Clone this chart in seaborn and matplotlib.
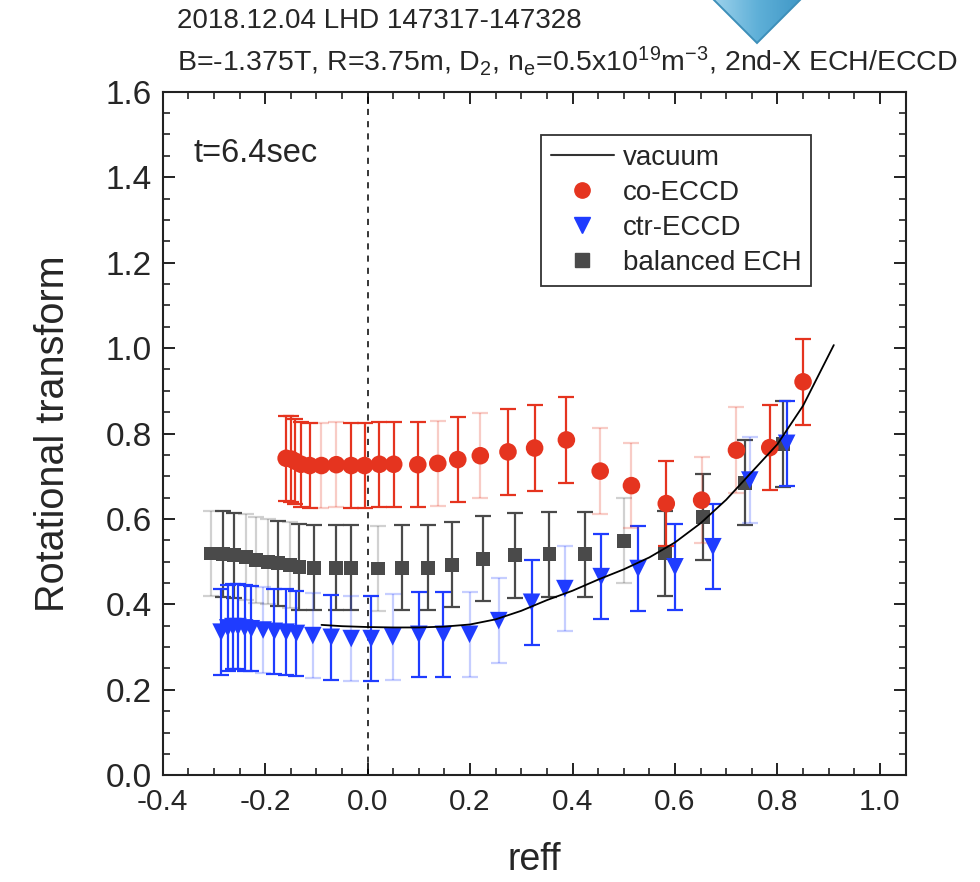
import numpy as np
import matplotlib
matplotlib.use("Agg")
import matplotlib.pyplot as plt
import seaborn as sns
from matplotlib.lines import Line2D
from matplotlib.patches import Polygon
from matplotlib.ticker import MultipleLocator

# ---- data -------------------------------------------------------------
vac_x = [-0.09, -0.05, 0.00, 0.05, 0.10, 0.15, 0.20, 0.25, 0.30, 0.35, 0.40,
         0.45, 0.50, 0.55, 0.60, 0.65, 0.70, 0.75, 0.80, 0.85, 0.91]
vac_y = [0.352, 0.349, 0.347, 0.346, 0.346, 0.348, 0.353, 0.365, 0.385, 0.410,
         0.432, 0.458, 0.482, 0.510, 0.545, 0.590, 0.645, 0.710, 0.775, 0.865, 1.007]

co_x = [-0.159, -0.149, -0.141, -0.130, -0.113, -0.090, -0.061, -0.032, -0.006,
        0.023, 0.051, 0.098, 0.137, 0.176, 0.220, 0.274, 0.326, 0.388, 0.454,
        0.515, 0.583, 0.652, 0.720, 0.785, 0.850]
co_y = [0.742, 0.740, 0.735, 0.728, 0.725, 0.725, 0.727, 0.725, 0.725, 0.728,
        0.728, 0.727, 0.730, 0.739, 0.748, 0.757, 0.766, 0.785, 0.712, 0.678,
        0.636, 0.644, 0.761, 0.767, 0.921]
co_err = [0.10] * len(co_x)
co_solid = [1, 1, 1, 1, 1, 0, 0, 1, 1, 1, 1, 1, 0, 1, 0, 1, 1, 1, 0, 0,
            1, 0, 0, 1, 1]

ctr_x = [-0.286, -0.273, -0.263, -0.253, -0.240, -0.227, -0.204, -0.182,
         -0.159, -0.139, -0.107, -0.071, -0.032, 0.007, 0.049, 0.100, 0.148,
         0.199, 0.256, 0.320, 0.385, 0.456, 0.528, 0.600, 0.674, 0.746, 0.818]
ctr_y = [0.335, 0.345, 0.348, 0.348, 0.345, 0.343, 0.340, 0.337, 0.335, 0.332,
         0.327, 0.323, 0.320, 0.320, 0.324, 0.330, 0.330, 0.330, 0.362, 0.405,
         0.437, 0.465, 0.484, 0.488, 0.535, 0.691, 0.777]
ctr_err = [0.10] * len(ctr_x)
ctr_solid = [1, 1, 1, 1, 1, 1, 0, 1, 1, 1, 0, 1, 0, 1, 0, 1, 1, 0, 0, 1,
             0, 1, 1, 1, 1, 0, 1]

bal_x = [-0.305, -0.283, -0.260, -0.237, -0.217, -0.195, -0.175, -0.152,
         -0.133, -0.104, -0.061, -0.032, 0.020, 0.068, 0.118, 0.165, 0.225,
         0.287, 0.355, 0.424, 0.500, 0.580, 0.655, 0.736, 0.810]
bal_y = [0.519, 0.518, 0.515, 0.511, 0.504, 0.500, 0.496, 0.492, 0.488, 0.486,
         0.486, 0.486, 0.484, 0.486, 0.486, 0.493, 0.507, 0.515, 0.517, 0.517,
         0.549, 0.519, 0.605, 0.685, 0.775]
bal_err = [0.10] * len(bal_x)
bal_solid = [0, 1, 1, 0, 0, 0, 1, 0, 1, 1, 1, 1, 0, 1, 1, 1, 1, 1, 1, 1,
             0, 1, 1, 1, 1]

# ---- style --------------------------------------------------------------
sns.set_theme(style="ticks")
plt.rcParams["font.family"] = ["Liberation Sans", "DejaVu Sans"]
plt.rcParams["mathtext.fontset"] = "custom"
plt.rcParams["mathtext.rm"] = "Liberation Sans"
plt.rcParams["mathtext.it"] = "Liberation Sans:italic"

RED = "#e5341f"
BLUE = "#1f3cff"
GREY = "#4a4a4a"

fig = plt.figure(figsize=(9.8, 8.82), dpi=100)
ax = fig.add_axes([0.166, 0.121, 0.758, 0.775])


def draw_errorbars(x, y, err, solid, color, z):
    x = np.asarray(x); y = np.asarray(y); err = np.asarray(err)
    solid = np.asarray(solid, dtype=bool)
    for mask, alpha in ((~solid, 0.25), (solid, 1.0)):
        if mask.any():
            ax.errorbar(x[mask], y[mask], yerr=err[mask], fmt="none",
                        ecolor=color, alpha=alpha, elinewidth=1.6,
                        capsize=5.5, capthick=1.6, zorder=z)


draw_errorbars(bal_x, bal_y, bal_err, bal_solid, GREY, 2)
draw_errorbars(ctr_x, ctr_y, ctr_err, ctr_solid, BLUE, 3)
draw_errorbars(co_x, co_y, co_err, co_solid, RED, 4)

sns.scatterplot(x=bal_x, y=bal_y, marker="s", s=100, color=GREY,
                edgecolor="none", linewidth=0, ax=ax, zorder=5)
sns.scatterplot(x=ctr_x, y=ctr_y, marker="v", s=160, color=BLUE,
                edgecolor="none", linewidth=0, ax=ax, zorder=5)
sns.scatterplot(x=co_x, y=co_y, marker="o", s=160, color=RED,
                edgecolor="none", linewidth=0, ax=ax, zorder=5)

sns.lineplot(x=vac_x, y=vac_y, color="black", linewidth=1.3, ax=ax,
             zorder=7, estimator=None, sort=True)

ax.axvline(0.0, color="black", linestyle=(0, (4, 4)), linewidth=1.1,
           zorder=1)

# ---- axes -------------------------------------------------------------
ax.set_xlim(-0.4, 1.05)
ax.set_ylim(0.0, 1.6)
ax.xaxis.set_minor_locator(MultipleLocator(0.05))
ax.yaxis.set_minor_locator(MultipleLocator(0.05))
ax.set_xticks([-0.4, -0.2, 0.0, 0.2, 0.4, 0.6, 0.8, 1.0])
ax.set_xticklabels(["-0.4", "-0.2", "0.0", "0.2", "0.4", "0.6", "0.8", "1.0"])
ax.set_yticks([0.0, 0.2, 0.4, 0.6, 0.8, 1.0, 1.2, 1.4, 1.6])
ax.set_yticklabels(["0.0", "0.2", "0.4", "0.6", "0.8", "1.0", "1.2", "1.4", "1.6"])
ax.tick_params(axis="both", which="both", direction="in", top=True,
               right=True, color="#222222")
ax.tick_params(axis="both", which="major", length=8.5, width=1.4)
ax.tick_params(axis="both", which="minor", length=5, width=1.2)
ax.tick_params(axis="x", which="major", labelsize=21.5, pad=9)
ax.tick_params(axis="y", which="major", labelsize=24, pad=8)
for sp in ax.spines.values():
    sp.set_linewidth(1.5)
    sp.set_color("#222222")

ax.set_xlabel("reff", fontsize=27, labelpad=19)
ax.set_ylabel("Rotational transform", fontsize=28.5, labelpad=24)

ax.text(0.041, 0.897, "t=6.4sec", transform=ax.transAxes, fontsize=23.5,
        va="baseline", ha="left")

handles = [
    Line2D([], [], color="#333333", lw=1.5),
    Line2D([], [], color=RED, marker="o", ls="none", markersize=11),
    Line2D([], [], color=BLUE, marker="v", ls="none", markersize=12),
    Line2D([], [], color=GREY, marker="s", ls="none", markersize=9.5),
]
labels = ["vacuum", "co-ECCD", "ctr-ECCD", "balanced ECH"]
leg = ax.legend(handles, labels, loc="upper left",
                bbox_to_anchor=(0.509, 0.937), fontsize=20, frameon=True,
                fancybox=False, framealpha=1, edgecolor="#333333",
                handlelength=2.3, handletextpad=0.3, labelspacing=0.33,
                borderpad=0.35, borderaxespad=0)
leg.get_frame().set_linewidth(1.3)

# ---- heading ------------------------------------------------------------
fig.text(177 / 980, 1 - 28 / 882, "2018.12.04 LHD 147317-147328",
         fontsize=20, va="baseline", ha="left")
fig.text(177 / 980, 1 - 71 / 882,
         r"B=-1.375T, R=3.75m, D$_\mathrm{2}$, n$_\mathrm{e}$=0.5x10$^\mathrm{19}$m$^\mathrm{-3}$, 2nd-X ECH/ECCD",
         fontsize=20.5, va="baseline", ha="left")

# slide arrow tip peeking in at the top
deco = fig.add_axes([0, 0, 1, 1], zorder=-1)
deco.set_xlim(0, 980)
deco.set_ylim(882, 0)
deco.axis("off")
tri = Polygon([(712, -2), (802, -2), (757, 43)], closed=True,
              facecolor="none", edgecolor="#3d8fb9", linewidth=1.4)
deco.add_patch(tri)
grad = np.linspace(0, 1, 64)[None, :]
img = deco.imshow(grad, cmap=matplotlib.colors.LinearSegmentedColormap.from_list(
    "sky", ["#9fd3ec", "#5fb0d8", "#3f97c6"]), extent=(712, 802, 43, -2),
    aspect="auto", zorder=0)
img.set_clip_path(tri)
deco.set_xlim(0, 980)
deco.set_ylim(882, 0)

fig.savefig("out.png", dpi=100)
